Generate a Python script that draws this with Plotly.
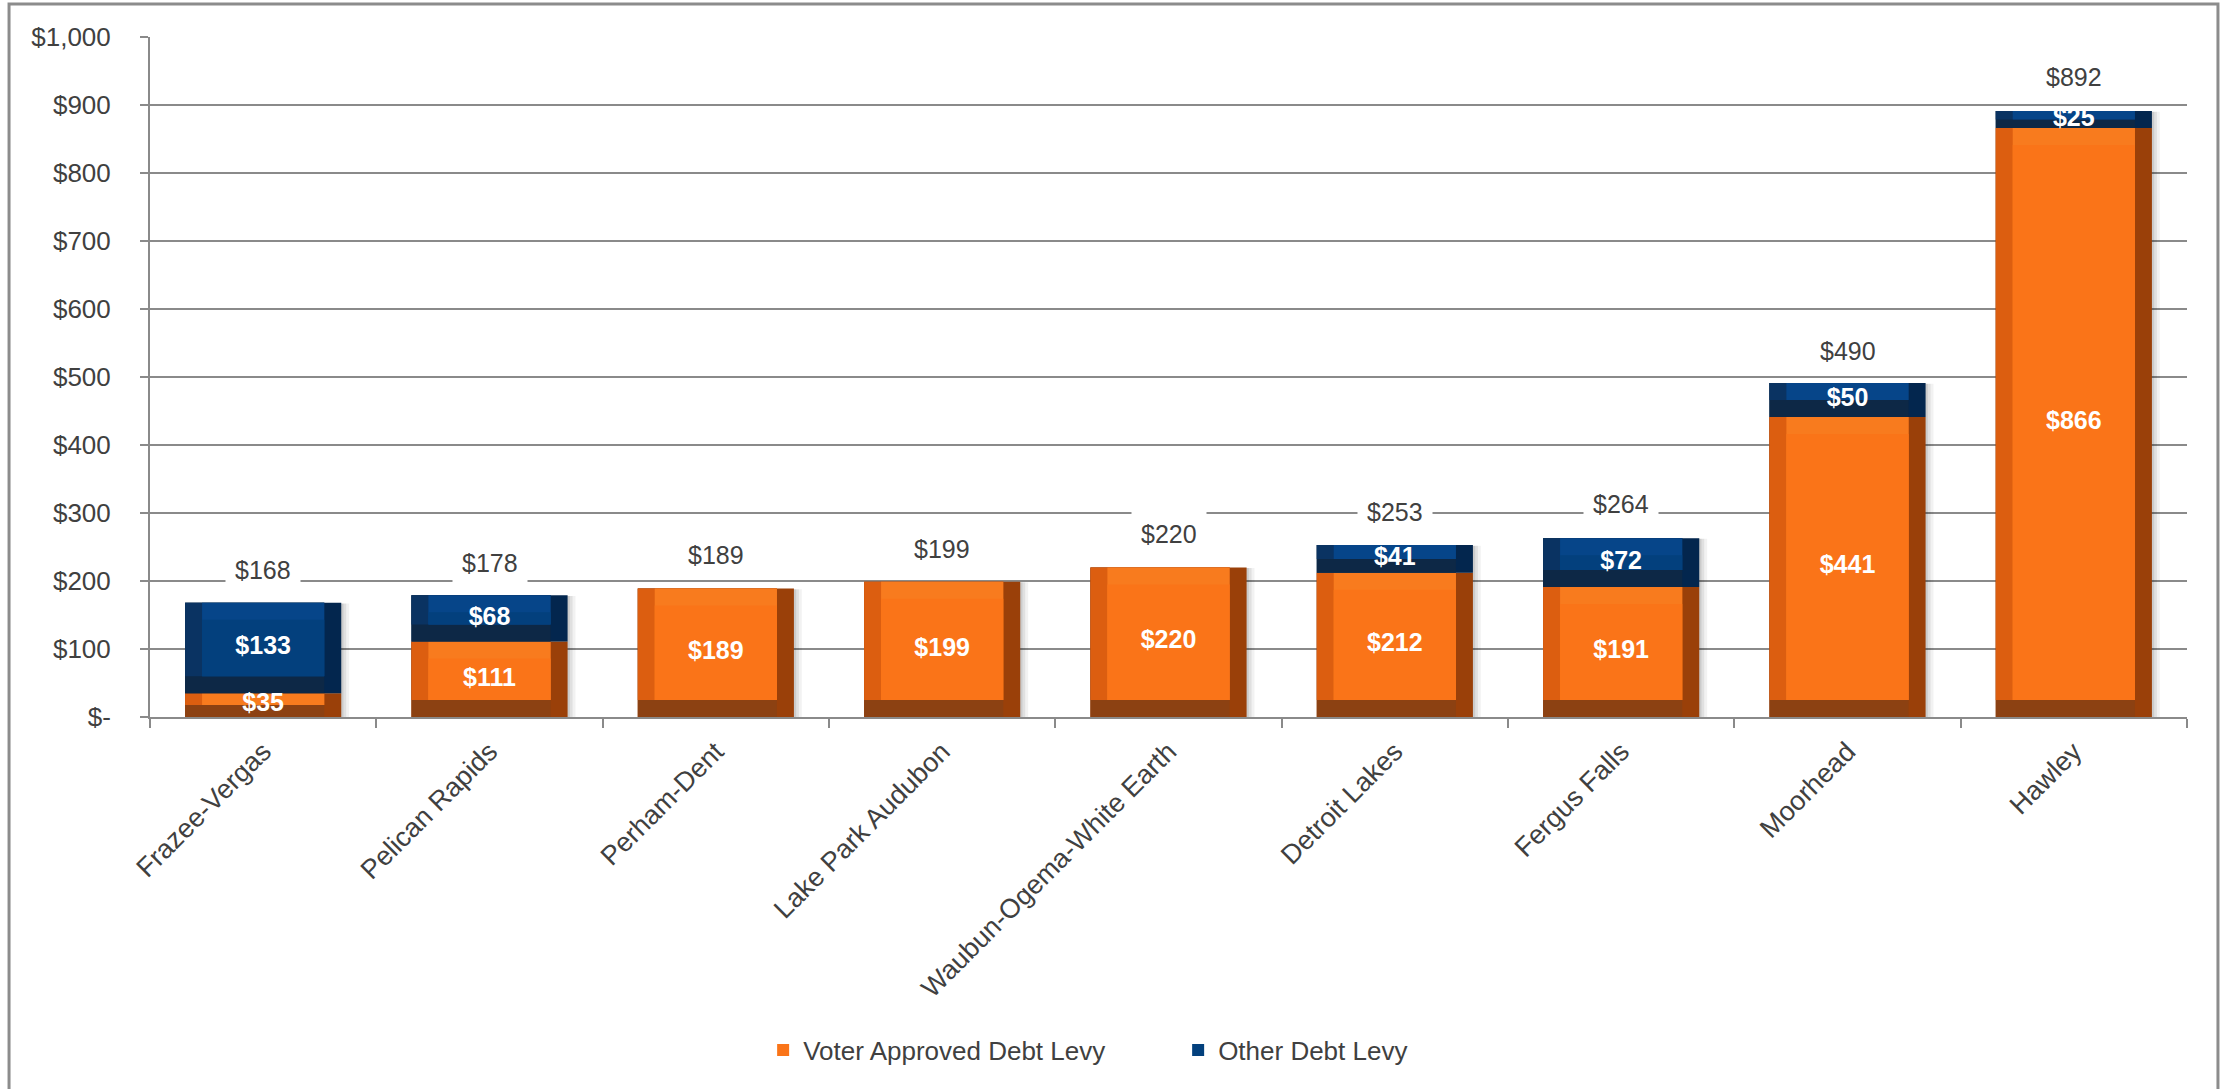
import plotly.graph_objects as go

# ---------------- data ----------------
categories = ["Frazee-Vergas", "Pelican Rapids", "Perham-Dent", "Lake Park Audubon",
              "Waubun-Ogema-White Earth", "Detroit Lakes", "Fergus Falls", "Moorhead", "Hawley"]
voter_approved = [35, 111, 189, 199, 220, 212, 191, 441, 866]
other_debt = [133, 68, 0, 0, 0, 41, 72, 50, 25]
totals = [168, 178, 189, 199, 220, 253, 264, 490, 892]
y_tick_vals = [0, 100, 200, 300, 400, 500, 600, 700, 800, 900, 1000]
y_tick_text = ["$-", "$100", "$200", "$300", "$400", "$500", "$600", "$700", "$800", "$900", "$1,000"]

# ---------------- style ----------------
FONT = "Liberation Sans, Arial, sans-serif"
TXT = "#404040"
GRID = "#8A8A8A"
W = 0.69        # bar width (category units)
E = 0.075       # horizontal bevel (category units)
EV = 25         # vertical bevel (data units)

orange = dict(right="#9A4009", bottom="#8C4112", left="#DC5E10", top="#F87B1E", face="#FA7418")
blue = dict(right="#03264E", bottom="#0D2846", left="#0A3362", top="#064589", face="#03407D")

fig = go.Figure()

# soft shadow behind stacked bars
stack_tot = [v + o for v, o in zip(voter_approved, other_debt)]
for dx, op in [(0.035, 0.05), (0.022, 0.07), (0.01, 0.09)]:
    fig.add_trace(go.Bar(x=categories, y=[t - 1 for t in stack_tot], base=[0] * len(categories),
                         width=W, offset=-W / 2 + dx, marker=dict(color=f"rgba(0,0,0,{op})", line_width=0),
                         showlegend=False, hoverinfo="skip"))


def bevel_bar(values, bases, pal, name):
    ev = [min(EV, v / 2) for v in values]
    layers = [
        (-W / 2, W, list(bases), values, pal["right"]),
        (-W / 2, W - E, list(bases), values, pal["bottom"]),
        (-W / 2, W - E, [b + e for b, e in zip(bases, ev)], [v - e for v, e in zip(values, ev)], pal["left"]),
        (-W / 2 + E, W - 2 * E, [b + e for b, e in zip(bases, ev)], [v - e for v, e in zip(values, ev)], pal["top"]),
        (-W / 2 + E, W - 2 * E, [b + e for b, e in zip(bases, ev)], [v - 2 * e for v, e in zip(values, ev)], pal["face"]),
    ]
    for i, (off, wid, base, hgt, col) in enumerate(layers):
        last = i == len(layers) - 1
        fig.add_trace(go.Bar(x=categories, y=hgt, base=base, width=wid, offset=off,
                             marker=dict(color=col, line_width=0),
                             name=name, showlegend=last, legendgroup=name,
                             hoverinfo="skip"))


bevel_bar(voter_approved, [0] * len(categories), orange, "Voter Approved Debt Levy")
bevel_bar(other_debt, voter_approved, blue, "Other Debt Levy")

# segment value labels
fig.add_trace(go.Scatter(x=categories, y=[v / 2 for v in voter_approved], mode="text",
                         text=[f"${v}" for v in voter_approved],
                         textfont=dict(family=FONT, size=25, color="white", weight="bold"),
                         showlegend=False, hoverinfo="skip"))
ox = [c for c, o in zip(categories, other_debt) if o > 0]
oy = [v + o / 2 for v, o in zip(voter_approved, other_debt) if o > 0]
ot = [f"${o}" for o in other_debt if o > 0]
fig.add_trace(go.Scatter(x=ox, y=oy, mode="text", text=ot,
                         textfont=dict(family=FONT, size=25, color="white", weight="bold"),
                         showlegend=False, hoverinfo="skip"))

# totals
for c, t in zip(categories, totals):
    fig.add_annotation(x=c, y=t, yshift=33, text=f"${t}", showarrow=False,
                       bgcolor="white", borderpad=9,
                       font=dict(family=FONT, size=25, color=TXT))

# outer frame
fig.add_shape(type="rect", xref="paper", yref="paper",
              x0=-0.0692, x1=1.0152, y0=-0.57, y1=1.0485,
              line=dict(color="#8C8C8C", width=3), fillcolor="rgba(0,0,0,0)", layer="below")

fig.update_layout(
    width=2234, height=1089, autosize=False,
    margin=dict(l=150, r=47, t=37, b=372),
    barmode="overlay",
    paper_bgcolor="white", plot_bgcolor="white",
    font=dict(family=FONT, color=TXT, size=25),
    showlegend=True,
    legend=dict(orientation="h", x=0.301, xanchor="left", y=-0.49, yanchor="middle",
                font=dict(family=FONT, size=26, color=TXT), entrywidth=370,
                traceorder="normal", bgcolor="rgba(0,0,0,0)"),
    xaxis=dict(type="category", showgrid=False, showline=True, linecolor=GRID, linewidth=2,
               ticks="outside", tickson="boundaries", ticklen=9, tickcolor=GRID, tickwidth=2,
               tickangle=-45, tickfont=dict(family=FONT, size=27, color=TXT),
               ticklabelstandoff=6,
               range=[-0.5, len(categories) - 0.5], fixedrange=True),
    yaxis=dict(range=[0, 1000], tickvals=y_tick_vals, ticktext=y_tick_text,
               showgrid=True, gridcolor=GRID, gridwidth=2, zeroline=False,
               showline=True, linecolor=GRID, linewidth=2,
               ticks="outside", ticklen=8, tickcolor=GRID, tickwidth=2,
               ticklabelstandoff=24,
               tickfont=dict(family=FONT, size=26, color=TXT), fixedrange=True),
)

fig.write_html("out.html", config={"displayModeBar": False},
               post_script="document.body.style.margin='0px';")
